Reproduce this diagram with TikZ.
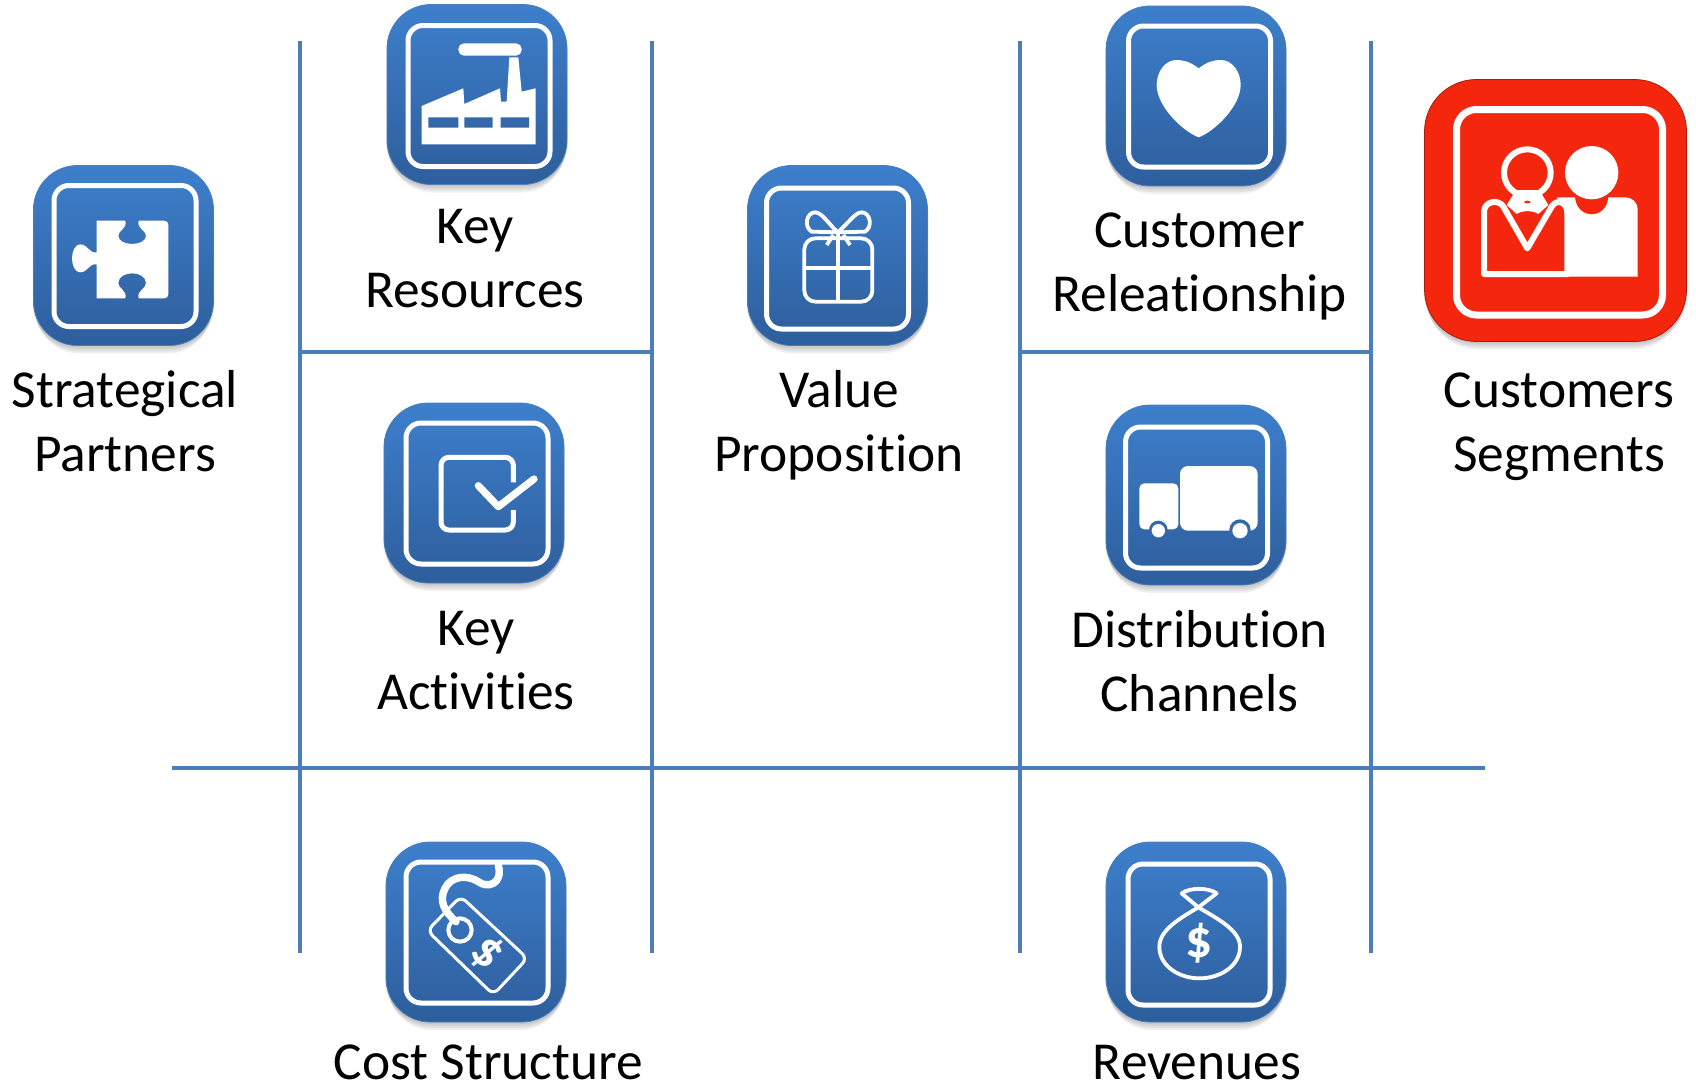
\documentclass[tikz,border=0pt]{standalone}
\usepackage{fontspec}
\setmainfont[Ligatures=NoCommon]{Carlito}
\usetikzlibrary{calc}
\definecolor{gridblue}{HTML}{4A7EBB}
\definecolor{tiletop}{HTML}{3D7FCC}
\definecolor{tilebot}{HTML}{2E5E9C}
\definecolor{tilemid}{HTML}{3568A9}
\definecolor{segred}{HTML}{F5260E}
\tikzset{
	gridline/.style={gridblue,line width=2mm},
	tilebox/.style={rectangle,rounded corners=2.2cm,minimum size=9cm,inner sep=0pt,top color=tiletop,bottom color=tilebot,draw=gridblue,line width=0.4mm},
	redbox/.style={rectangle,rounded corners=2.6cm,minimum size=13.1cm,inner sep=0pt,fill=segred,draw=segred!70!black,line width=0.4mm},
	iconframe/.style={draw=white,line width=2.5mm,rounded corners=0.75cm},
	iconline/.style={draw=white,line width=1.9mm,line join=round},
	iconfill/.style={fill=white,draw=none},
	lbl/.style={anchor=base,align=center,inner sep=0pt,font=\fontsize{76}{91}\selectfont},
}
\begin{document}
\begin{tikzpicture}[x=0.05cm,y=-0.05cm]
	\useasboundingbox (0,0) rectangle (1696,1085);
	\draw[gridline] (300,41) -- (300,953) (652,41) -- (652,953); %left verticals
	\draw[gridline] (1020,41) -- (1020,953) (1370.5,41) -- (1370.5,953); %right verticals
	\draw[gridline] (172,768) -- (1485,768); %long horizontal
	\draw[gridline] (300,351.5) -- (652,351.5) (1020,351.5) -- (1370,351.5);
	% blue tiles: name / tile centre / frame centre
	\foreach \n/\x/\y/\fx/\fy in {partners/123.5/255.5/125/256,resources/477/94.5/479/96,activities/474/493/477/493.5,value/837.5/255.5/837.5/258.5,relation/1196/96/1199.5/96.5,channels/1196/495/1196.5/497.5,cost/476/932/477/932.5,revenue/1196/932/1199/934.5}{
		\foreach \s in {0,1,2,3}
			\fill[black,opacity=0.06,rounded corners=2.2cm] ({\x-91+\s},{\y-84}) rectangle ({\x+91-\s},{\y+92+2*\s});
		\node[tilebox] (\n) at (\x,\y) {};
		\draw[iconframe] ({\fx-71},{\fy-70.5}) rectangle ({\fx+71},{\fy+70.5});
	}
	% red tile
	\foreach \s in {0,1,2,3}
		\fill[black,opacity=0.06,rounded corners=2.6cm] ({1555.5-132+\s},{210.5-122}) rectangle ({1555.5+132-\s},{210.5+133+2*\s});
	\node[redbox] (segments) at (1555.5,210.5) {};
	\draw[iconframe,rounded corners=1cm,line width=3.5mm] (1456.5,109.5) rectangle (1662.5,315);
	% puzzle
	\begin{scope}[shift={(20,155)},scale=1/3]
		\fill[iconfill] (230,197) -- (316,197) .. controls (322,222) and (295,225) .. (295,242) .. controls (295,275) and (378,275) .. (378,242) .. controls (378,225) and (350,222) .. (356,197) -- (432,197) .. controls (441,197) and (445,202) .. (445,210) -- (445,417) .. controls (445,425) and (441,430) .. (432,430) -- (356,430) .. controls (350,405) and (378,402) .. (378,385) .. controls (378,345) and (295,345) .. (295,385) .. controls (295,402) and (322,405) .. (316,430) -- (230,430) -- (230,328) .. controls (205,325) and (205,352) .. (180,352) .. controls (165,352) and (156,330) .. (156,310) .. controls (156,290) and (165,268) .. (180,268) .. controls (205,268) and (205,295) .. (230,292) -- cycle;
	\end{scope}
	% factory
	\begin{scope}[shift={(370,0)},scale=1/3]
		\fill[iconfill,rounded corners=0.28cm] (265,167) -- (265,130) -- (455,130) -- (455,167) -- cycle;
		\fill[iconfill] (155,318) -- (280,265) -- (283,312) -- (390,265) -- (393,305) -- (410,305) -- (418,172) -- (445,172) -- (455,275) -- (497,265) -- (497,433) -- (155,433) -- cycle;
		\fill[tilemid] (175,352) rectangle (265,383) (283,352) rectangle (368,383) (392,352) rectangle (477,383);
	\end{scope}
	% checked box
	\begin{scope}[shift={(370,395)},scale=1/3]
		\draw[iconline,line width=2.5mm,rounded corners=0.4cm] (430,262) -- (430,187) -- (213,187) -- (213,405) -- (430,405) -- (430,345);
		\draw[iconline,line width=3.6mm,line cap=round] (325,272) -- (385,335) -- (492,252);
	\end{scope}
	% gift
	\begin{scope}[shift={(735,155)},scale=1/3]
		\draw[iconline,rounded corners=0.55cm] (208,250) rectangle (412,440);
		\draw[iconline] (308,235) -- (308,440) (208,340) -- (412,340);
		\draw[iconline] (308,232) .. controls (280,205) and (260,172) .. (240,172) .. controls (215,172) and (205,215) .. (230,230) -- (308,232) .. controls (340,205) and (360,172) .. (380,172) .. controls (405,172) and (415,215) .. (390,230) -- cycle;
		\draw[iconline] (295,240) -- (275,270) (325,240) -- (345,270);
	\end{scope}
	% heart
	\begin{scope}[shift={(1090,0)},scale=1/3]
		\fill[iconfill] (326,205) .. controls (300,185) and (280,180) .. (260,180) .. controls (225,180) and (200,215) .. (200,255) .. controls (200,320) and (280,395) .. (326,412) .. controls (372,395) and (452,320) .. (452,255) .. controls (452,215) and (427,180) .. (392,180) .. controls (372,180) and (352,185) .. (326,205) -- cycle;
	\end{scope}
	% truck
	\begin{scope}[shift={(1090,400)},scale=1/3]
		\fill[iconfill,rounded corners=0.25cm] (148,250) rectangle (265,388);
		\fill[iconfill,rounded corners=0.4cm] (270,198) rectangle (503,392);
		\fill[tilemid] (205,390) circle[radius=28] (450,390) circle[radius=32];
		\fill[iconfill] (205,392) circle[radius=20] (450,392) circle[radius=23];
	\end{scope}
	% price tag
	\begin{scope}[shift={(370,830)},scale=1/3]
		\draw[iconline,line width=1.5mm,rounded corners=0.35cm] (172,302) -- (272,199) -- (472,385) -- (370,494) -- cycle;
		\draw[iconline,line width=2mm] (270,300) circle[radius=35];
		\draw[iconline,line width=3.7mm,line cap=round] (258,275) .. controls (225,245) and (205,215) .. (225,175) .. controls (245,135) and (295,135) .. (325,155) .. controls (350,175) and (400,165) .. (385,105);
		\node[white,rotate=-45,font=\fontsize{72}{72}\bfseries\selectfont,inner sep=0pt] (tagsign) at (350,368) {\$};
	\end{scope}
	% money bag
	\begin{scope}[shift={(1090,830)},scale=1/3]
		\draw[iconline] (325,232) -- (275,190) .. controls (300,172) and (355,172) .. (380,190) -- cycle;
		\draw[iconline] (325,232) .. controls (270,265) and (208,300) .. (208,350) .. controls (208,410) and (270,445) .. (328,445) .. controls (388,445) and (450,410) .. (450,350) .. controls (450,300) and (380,265) .. (325,232) -- cycle;
		\node[white,font=\fontsize{76}{76}\bfseries\selectfont,inner sep=0pt] (bagsign) at (326,340) {\$};
	\end{scope}
	% people
	\begin{scope}[shift={(1410,70)},scale=1/3]
		\fill[iconfill] (472,620) -- (683,620) -- (683,420) .. controls (683,395) and (665,382) .. (645,382) -- (595,382) .. controls (590,450) and (500,450) .. (495,382) -- (440,382) -- (472,430) -- cycle;
		\draw[iconline,line width=3mm,line join=round] (472,612) -- (222,612) -- (222,425) .. controls (222,395) and (265,385) .. (280,410) -- (352,535) -- (425,410) .. controls (440,385) and (472,395) .. (472,430) -- cycle;
		\draw[iconline,line width=3mm] (352,308) circle[radius=70];
		\fill[iconfill] (318,360) -- (388,360) -- (415,405) -- (385,432) .. controls (365,420) and (340,420) .. (320,432) -- (290,405) -- cycle;
		\fill[segred] (352,396) ellipse[x radius=10,y radius=4];
		\fill[iconfill] (545,308) circle[radius=80];
	\end{scope}
	% labels
	\node[lbl] (partnerstxt) at (125,471.5) {Strategical\\Partners};
	\node[lbl] (resourcestxt) at (475,307.5) {Key\\Resources};
	\node[lbl] (activitiestxt) at (476,709) {Key\\Activities};
	\node[lbl] (valuetxt) at (839,471.5) {Value\\Proposition};
	\node[lbl] (relationtxt) at (1199.5,311.5) {Customer\\Releationship};
	\node[lbl] (channelstxt) at (1199.5,711) {Distribution\\Channels};
	\node[lbl] (segmentstxt) at (1559,471.5) {Customers\\Segments};
	\node[lbl,text depth=0pt] (costtxt) at (488.5,1079) {Cost Structure};
	\node[lbl,text depth=0pt] (revenuetxt) at (1197,1079) {Revenues};
\end{tikzpicture}
\end{document}
